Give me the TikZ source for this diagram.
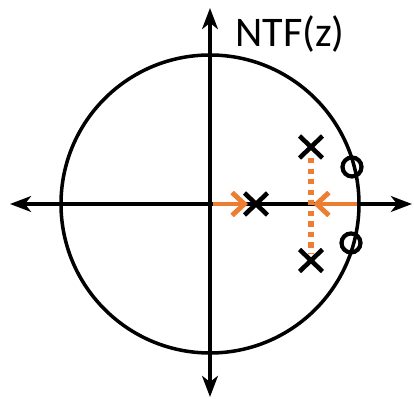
\documentclass[tikz,border=0pt]{standalone}
\usepackage{fontspec}
\setmainfont{Carlito}
\usetikzlibrary{arrows.meta,calc}
\definecolor{orangeoff}{HTML}{ED7D31}
\tikzset{
  asse/.style={line width=2pt,{Stealth[length=12pt,width=9pt,inset=3.5pt]}-{Stealth[length=12pt,width=9pt,inset=3.5pt]}},
  polo/.style={line width=2.6pt},
  zero/.style={line width=2.4pt},
  spost/.style={orangeoff,line width=2.8pt,-{Straight Barb[length=7pt,width=13pt,line width=2.8pt]}}
}
\begin{document}
\begin{tikzpicture}
        \useasboundingbox (-4.2,-3.9) rectangle (4.08,4.08);
        %cerchio unitario
        \draw[line width=2pt](0,0) circle (2.98);
        %asse x
        \draw[asse](-4.0,0)--(4.04,0);
        %asse y
        \draw[asse](0,-3.86)--(0,3.92);
        \node (ntf) at (1.6,3.4){\fontsize{24}{26}\selectfont NTF(z)};

        %spostamento dei poli
        \coordinate (p1) at (0.92,0);
        \coordinate (p2) at (2.02,1.14);
        \coordinate (p3) at (2.02,-1.13);
        \draw[spost](0.06,0)--(0.76,0);
        \draw[spost](2.94,0)--(2.06,0);
        \draw[orangeoff,line width=3pt,dash pattern=on 3pt off 3pt](2.02,0.92)--(2.02,-0.98);

        %poli
        \foreach \p in {p1,p2,p3}
          \draw[polo]($(\p)+(-0.23,-0.22)$)--($(\p)+(0.23,0.22)$)
                     ($(\p)+(-0.23,0.22)$)--($(\p)+(0.23,-0.22)$);

        %zeri
        \draw[zero](2.84,0.74) circle (0.19);
        \draw[zero](2.82,-0.78) circle (0.19);
\end{tikzpicture}
\end{document}
